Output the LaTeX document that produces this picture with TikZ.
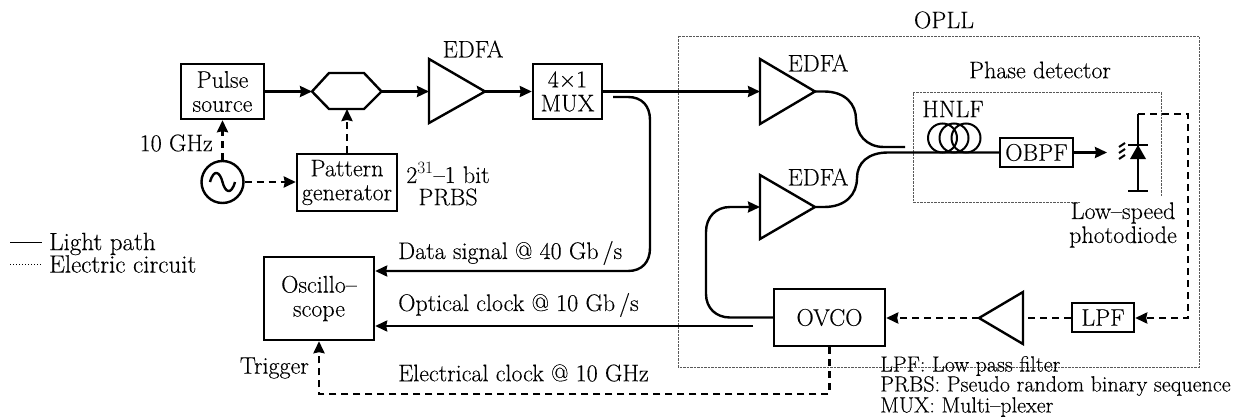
\documentclass[tikz,border=0pt]{standalone}
\usepackage{fontspec}
\setmainfont{Latin Modern Roman}[FakeBold=0.25]
\usetikzlibrary{arrows.meta}
\tikzset{
  every node/.style={font=\fontsize{24}{24}\selectfont, inner sep=0pt},
  box/.style={draw, line width=2.4pt, inner sep=0pt, align=center},
  light/.style={line width=2.4pt},
  lightarr/.style={light, -{Stealth[length=12pt,width=11pt,inset=1pt]}},
  elec/.style={line width=2.6pt, dash pattern=on 7pt off 5pt},
  elecarr/.style={elec, -{Stealth[length=12pt,width=11pt,inset=1pt]}},
  thinbox/.style={line width=0.7pt, black!65, dash pattern=on 2.5pt off 1pt},
  amp/.style={line width=2.4pt, line join=miter},
  lab/.style={anchor=center, align=center},
  labl/.style={anchor=west, align=left},
  note/.style={anchor=west, font=\fontsize{22}{22}\selectfont},
  legend/.style={anchor=west, font=\fontsize{25}{25}\selectfont},
}
\begin{document}
\begin{tikzpicture}[x=1pt,y=-1pt]
\useasboundingbox (0,0) rectangle (1240,420);
% thin boxes
\draw[thinbox] (678,36) rectangle (1199,367);
\draw[thinbox] (1080,202) -- (913,202) -- (913,92) -- (1161,92) -- (1161,197);
% blocks
\node[box, minimum width=83pt, minimum height=55pt] (pulse) at (222.5,91.5) {Pulse\\source};
\node[box, minimum width=69pt, minimum height=55pt] (mux) at (567.5,91.5) {4\texttimes 1\\MUX};
\node[box, minimum width=100pt, minimum height=57pt] (pat) at (347,182.5) {Pattern\\generator};
\node[draw, circle, line width=2.4pt, minimum size=42pt] (osc) at (222.5,182) {};
\draw[line width=2.4pt] (210,182) .. controls (214,168) and (220,172) .. (222.5,182) .. controls (225,192) and (231,196) .. (235,182);
\node[box, minimum width=110pt, minimum height=83pt] (scope) at (319,298.5) {Oscillo--\\scope};
\node[box, minimum width=111pt, minimum height=57pt] (ovco) at (829.5,317.5) {OVCO};
\node[box, minimum width=62pt, minimum height=29pt] (lpf) at (1103,317.5) {LPF};
\node[box, minimum width=73pt, minimum height=29pt] (obpf) at (1036.5,152.5) {OBPF};
% modulator
\coordinate (hexL) at (312,91.5); \coordinate (hexR) at (381.5,91.5); \coordinate (hexB) at (347,109);
\draw[amp] (hexL) -- (329,73) -- (364,73) -- (hexR) -- (364,109) -- (329,109) -- cycle;
% amplifiers
\coordinate (a1in) at (429,91.5); \coordinate (a1out) at (485,91.5);
\draw[amp] (429,59) -- (a1out) -- (429,123) -- cycle;
\coordinate (a2in) at (760,91.5); \coordinate (a2out) at (815,91.5);
\draw[amp] (760,59) -- (a2out) -- (760,124) -- cycle;
\coordinate (a3in) at (760,207); \coordinate (a3out) at (815,207);
\draw[amp] (760,175) -- (a3out) -- (760,239) -- cycle;
\coordinate (a4out) at (979,318); \coordinate (a4in) at (1023,318);
\draw[amp] (1023,292) -- (a4out) -- (1023,344) -- cycle;
% light paths
\draw[lightarr] (pulse.east) -- (hexL);
\draw[lightarr] (hexR) -- (a1in);
\draw[lightarr] (a1out) -- (mux.west);
\draw[lightarr] (mux.east) -- (a2in);
\coordinate (tapA) at (613,97);
\draw[lightarr] (tapA) -- (628,97) .. controls (642,97) and (650,106) .. (650,120) -- (650,248) .. controls (650,262) and (642,271) .. (628,271) -- (scope.east |- 0,271);
\coordinate (clkEnd) at (753,326);
\draw[lightarr] (clkEnd) -- (scope.east |- clkEnd);
\draw[lightarr] (ovco.west) -- (730,317.5) .. controls (716,317.5) and (706,308) .. (706,294) -- (706,232) .. controls (706,217) and (716,207) .. (730,207) -- (a3in);
\coordinate (cplA) at (905,147);
\draw[light] (a2out) -- (824,91.5) .. controls (846,91.5) and (856,105) .. (856,119) .. controls (856,134) and (866,147) .. (884,147) -- (cplA);
\draw[light] (a3out) -- (824,207) .. controls (846,207) and (857,194) .. (857,178) .. controls (857,163) and (868,152.5) .. (888,152.5) -- (obpf.west);
\coordinate (pdIn) at (1107,152.5);
\draw[lightarr] (obpf.east) -- (pdIn);
% fibre coil
\foreach \cx in {942.5,954,966} \draw[line width=2pt] (\cx,138) circle (14.5pt);
% photodiode
\coordinate (pdTop) at (1138,114); \coordinate (pdBot) at (1138,191);
\draw[light] (pdTop) -- (pdBot);
\draw[light] (1128,145) -- (1148,145);
\draw[light] (1128,191) -- (1148,191);
\fill (1138,145) -- (1146,159) -- (1130,159) -- cycle;
\foreach \dy in {0,6,12} \draw[line width=2pt] (1125,143+\dy) -- (1119,147+\dy);
% electric paths
\draw[elecarr] (osc.north) -- (pulse.south);
\draw[elecarr] (osc.east) -- (pat.west |- osc.east);
\draw[elecarr] (pat.north) -- (hexB);
\draw[elecarr] (pdTop) -- (1188,114) -- (1188,318) -- (lpf.east |- 0,318);
\draw[elec] (lpf.west |- a4in) -- (a4in);
\draw[elecarr] (a4out) -- (ovco.east |- a4out);
\draw[elecarr] (ovco.south) -- (829.5,394) -- (319,394) -- (scope.south);
% labels
\node[lab] (t1) at (473,49) {EDFA};
\node[lab] (t2) at (818,63) {EDFA};
\node[lab] (t3) at (818,177) {EDFA};
\node[lab] (t4) at (944,20) {OPLL};
\node[lab] (t5) at (1040,70) {Phase detector};
\node[lab] (t6) at (953,109) {HNLF};
\node[anchor=east] (t7) at (213,143) {10 GHz};
\node[lab] (t8) at (448,173) {2$^{31}$--1 bit};
\node[lab] (t9) at (448,197) {PRBS};
\node[lab] (t10) at (1123,213) {Low--speed};
\node[lab] (t11) at (1123,237) {photodiode};
\node[labl] (t12) at (398,253) {Data signal @ 40 Gb\,/s};
\node[labl] (t13) at (398,305) {Optical clock @ 10 Gb\,/s};
\node[labl] (t14) at (398,373) {Electrical clock @ 10 GHz};
\node[anchor=east] (t15) at (309,368) {Trigger};
\node[note] (t16) at (880,366) {LPF: Low pass filter};
\node[note] (t17) at (880,386) {PRBS: Pseudo random binary sequence};
\node[note] (t18) at (880,407) {MUX: Multi--plexer};
% legend
\node[legend] (lg1) at (49,244) {Light path};
\node[legend] (lg2) at (49,264) {Electric circuit};
\coordinate (lg1a) at (10,242); \coordinate (lg1b) at (42,242);
\coordinate (lg2a) at (10,264); \coordinate (lg2b) at (42,264);
\draw[line width=1pt] (lg1a) -- (lg1b);
\draw[line width=1pt, dash pattern=on 1.2pt off 1.8pt] (lg2a) -- (lg2b);
\end{tikzpicture}
\end{document}
